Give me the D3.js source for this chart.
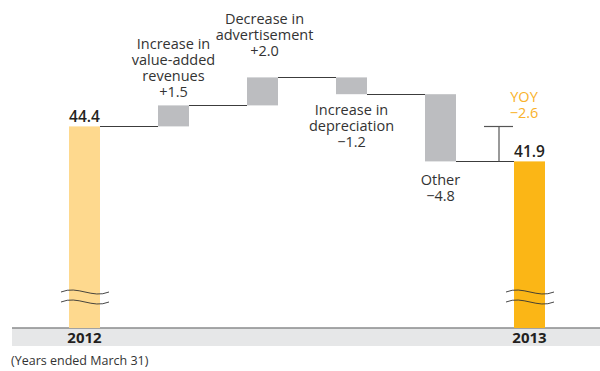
<!DOCTYPE html>
<html>
<head>
<meta charset="utf-8">
<script src="https://cdn.jsdelivr.net/npm/d3@7"></script>
<style>
  html, body { margin: 0; padding: 0; background: #fff; }
  svg { display: block; font-family: "Open Sans", "Noto Sans", sans-serif; }
</style>
</head>
<body>
<svg id="chart" width="600" height="371"></svg>
<script>
// ---- data ----
const categories = ["2012", "vas", "adv", "dep", "other", "2013"];
const kinds = ["total", "delta", "delta", "delta", "delta", "total"];
const values = [44.4, 1.5, 2.0, -1.2, -4.8, 41.9];
const labelLines = [
  [],
  ["Increase in", "value-added", "revenues"],
  ["Decrease in", "advertisement"],
  ["Increase in", "depreciation"],
  ["Other"],
  []
];
const yearLabels = ["2012", "", "", "", "", "2013"];
const yoyTitle = "YOY";
const yoyValue = -2.6;
const footnote = "(Years ended March 31)";

// ---- layout ----
const svg = d3.select("#chart");
const W = 600, H = 371;
const barW = 31;
const baseY = 328;
const x = d3.scalePoint().domain(categories).range([84.5, 529.5]);
const y = d3.scaleLinear().domain([30, 48]).range([baseY, 76]);

const fmt = v => (v > 0 ? "+" : "\u2212") + d3.format(".1f")(Math.abs(v));

// compute waterfall extents
let running = 0;
const bars = categories.map((c, i) => {
  let y0, y1;
  if (kinds[i] === "total") {
    y0 = 30; y1 = values[i]; running = values[i];
  } else {
    y0 = running; y1 = running + values[i]; running = y1;
  }
  return { c, i, kind: kinds[i], v: values[i], lo: Math.min(y0, y1), hi: Math.max(y0, y1), end: y1, start: y0 };
});

const colors = { first: "#FED98E", last: "#FBB616", delta: "#BCBDC0" };

// axis band
svg.append("rect").attr("x", 12).attr("y", baseY).attr("width", W - 12).attr("height", 18).attr("fill", "#E6E7E8");
svg.append("line").attr("x1", 12).attr("x2", W).attr("y1", baseY).attr("y2", baseY)
  .attr("stroke", "#8A8B8D").attr("stroke-width", 1.6);

// bars
svg.selectAll("rect.bar").data(bars).join("rect")
  .attr("class", "bar")
  .attr("x", d => x(d.c) - barW / 2)
  .attr("y", d => y(d.hi))
  .attr("width", barW)
  .attr("height", d => y(d.lo) - y(d.hi))
  .attr("fill", d => d.kind === "delta" ? colors.delta : (d.i === 0 ? colors.first : colors.last));

// connectors
for (let i = 0; i < bars.length - 1; i++) {
  const lvl = bars[i].end;
  svg.append("line")
    .attr("x1", x(bars[i].c) + barW / 2).attr("x2", x(bars[i + 1].c) - barW / 2)
    .attr("y1", Math.round(y(lvl)) + 0.5).attr("y2", Math.round(y(lvl)) + 0.5)
    .attr("stroke", "#3C3C3C").attr("stroke-width", 1);
}

// break marks
bars.filter(d => d.kind === "total").forEach(d => {
  const cx = x(d.c);
  [292, 302].forEach(wy => {
    const x0 = cx - barW / 2 - 8, x1 = cx + barW / 2 + 9;
    const w = x1 - x0;
    svg.append("path")
      .attr("d", `M${x0},${wy} C${x0 + w * 0.35},${wy - 7} ${x0 + w * 0.65},${wy + 7} ${x1},${wy}`)
      .attr("fill", "none").attr("stroke", "#333").attr("stroke-width", 0.9);
  });
});

// total value labels
bars.filter(d => d.kind === "total").forEach(d => {
  svg.append("text").attr("x", x(d.c)).attr("y", y(d.v) - 4)
    .attr("text-anchor", "middle").attr("font-size", 15.5).attr("font-weight", 600)
    .attr("fill", "#231F20").text(d3.format(".1f")(d.v));
});

// delta annotations
const above = { 1: 8, 2: 21 };   // gap from bar top to last baseline
const below = { 3: 21, 4: 24 };  // gap from bar bottom to first baseline
const lh = 16;
bars.filter(d => d.kind === "delta").forEach(d => {
  const lines = labelLines[d.i].concat([fmt(d.v)]);
  let firstBase;
  if (d.v > 0) firstBase = y(d.hi) - above[d.i] - (lines.length - 1) * lh;
  else firstBase = y(d.lo) + below[d.i];
  const t = svg.append("text").attr("text-anchor", "middle").attr("font-size", 14.5)
    .attr("fill", "#333");
  lines.forEach((ln, k) => {
    t.append("tspan").attr("x", x(d.c) + (d.i === 2 ? 2 : 0)).attr("y", firstBase + k * lh).text(ln);
  });
});

// YOY bracket
const bx = 499;
const first = bars[0], last = bars[bars.length - 1];
svg.append("line").attr("x1", bx).attr("x2", bx).attr("y1", y(first.v)).attr("y2", y(last.v))
  .attr("stroke", "#555").attr("stroke-width", 1.2);
svg.append("line").attr("x1", 484).attr("x2", 513).attr("y1", Math.round(y(first.v)) + 0.5).attr("y2", Math.round(y(first.v)) + 0.5)
  .attr("stroke", "#555").attr("stroke-width", 1.2);
const yt = svg.append("text").attr("text-anchor", "middle").attr("font-size", 14.5).attr("fill", "#F9B22B");
yt.append("tspan").attr("x", 524).attr("y", 102).text(yoyTitle);
yt.append("tspan").attr("x", 524).attr("y", 118).text(fmt(yoyValue));

// year labels
categories.forEach((c, i) => {
  if (!yearLabels[i]) return;
  svg.append("text").attr("x", x(c)).attr("y", 343).attr("text-anchor", "middle")
    .attr("font-size", 15).attr("font-weight", 700).attr("fill", "#231F20").text(yearLabels[i]);
});

// footnote
svg.append("text").attr("x", 11).attr("y", 365).attr("font-size", 12.5).attr("fill", "#333").text(footnote);
</script>
</body>
</html>
